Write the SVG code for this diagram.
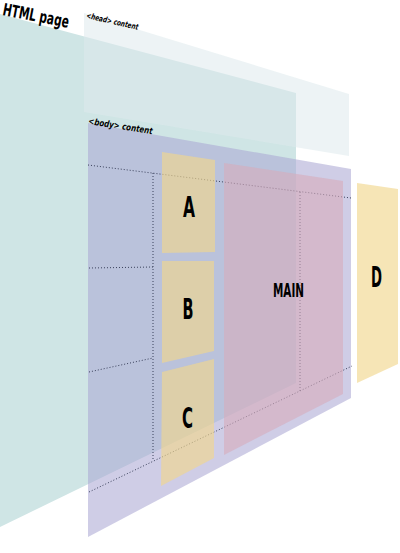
<svg xmlns="http://www.w3.org/2000/svg" width="400" height="553" viewBox="0 0 400 553">
<style>
.teal{fill:#cfe5e5}
.head{fill:rgb(222,233,237);fill-opacity:0.55}
.body{fill:rgb(170,166,211);fill-opacity:0.56}
.box{fill:rgb(241,214,141);fill-opacity:0.64}
.main{fill:rgb(215,172,187);fill-opacity:0.6}
.dot{fill:none;stroke:#39405a;stroke-width:1;stroke-dasharray:1 2}
.big{font-family:"Liberation Sans Narrow","DejaVu Sans Condensed","Liberation Sans",sans-serif;font-weight:bold;fill:#000}
.lbl{font-family:"Liberation Sans Narrow","DejaVu Sans Condensed","Liberation Sans",sans-serif;font-weight:bold;font-style:italic;fill:#000}
</style>
<rect width="400" height="553" fill="#ffffff"/>
<g id="html-page">
<polygon class="teal" points="0,14 296,93 296,383 0,527"/>
<text class="big" x="2" y="15" font-size="17" textLength="67" lengthAdjust="spacingAndGlyphs" transform="rotate(11 2 15)">HTML page</text>
</g>
<g id="head-content">
<polygon class="head" points="84,13 349,94 349,156 84,112"/>
<text class="lbl" x="86" y="18" font-size="8" textLength="53" lengthAdjust="spacingAndGlyphs" transform="rotate(13 86 18)">&lt;head&gt; content</text>
</g>
<g id="body-content">
<polygon class="body" points="88,123 351,169 351,398 88,537"/>
<text class="lbl" x="88" y="124" font-size="9" textLength="65" lengthAdjust="spacingAndGlyphs" transform="rotate(9 88 124)">&lt;body&gt; content</text>
</g>
<g id="connectors">
<line class="dot" x1="88" y1="165" x2="351" y2="198"/>
<line class="dot" x1="153" y1="173" x2="153" y2="461"/>
<line class="dot" x1="89" y1="268" x2="153" y2="267"/>
<line class="dot" x1="89" y1="372" x2="153" y2="358"/>
<line class="dot" x1="89" y1="492" x2="352" y2="366"/>
<line class="dot" x1="300" y1="192" x2="300" y2="391"/>
</g>
<g id="A">
<polygon class="box" points="162,152 215,160 215,252 162,253"/>
<text class="big" x="189" y="217" font-size="29" text-anchor="middle" textLength="12" lengthAdjust="spacingAndGlyphs">A</text>
</g>
<g id="B">
<polygon class="box" points="162,261 214,261 214,351 162,363"/>
<text class="big" x="188" y="319" font-size="29" text-anchor="middle" textLength="11" lengthAdjust="spacingAndGlyphs">B</text>
</g>
<g id="C">
<polygon class="box" points="162,372 214,359 214,458 161,486"/>
<text class="big" x="187.5" y="428" font-size="29" text-anchor="middle" textLength="11" lengthAdjust="spacingAndGlyphs">C</text>
</g>
<g id="MAIN">
<polygon class="main" points="224,163 343,181 343,394 224,455"/>
<text class="big" x="288.5" y="297" font-size="19.5" text-anchor="middle" textLength="31" lengthAdjust="spacingAndGlyphs">MAIN</text>
</g>
<g id="D">
<polygon class="box" points="357,183 398,189 398,364 357,383"/>
<text class="big" x="376.5" y="287" font-size="29" text-anchor="middle" textLength="11" lengthAdjust="spacingAndGlyphs">D</text>
</g>
</svg>
